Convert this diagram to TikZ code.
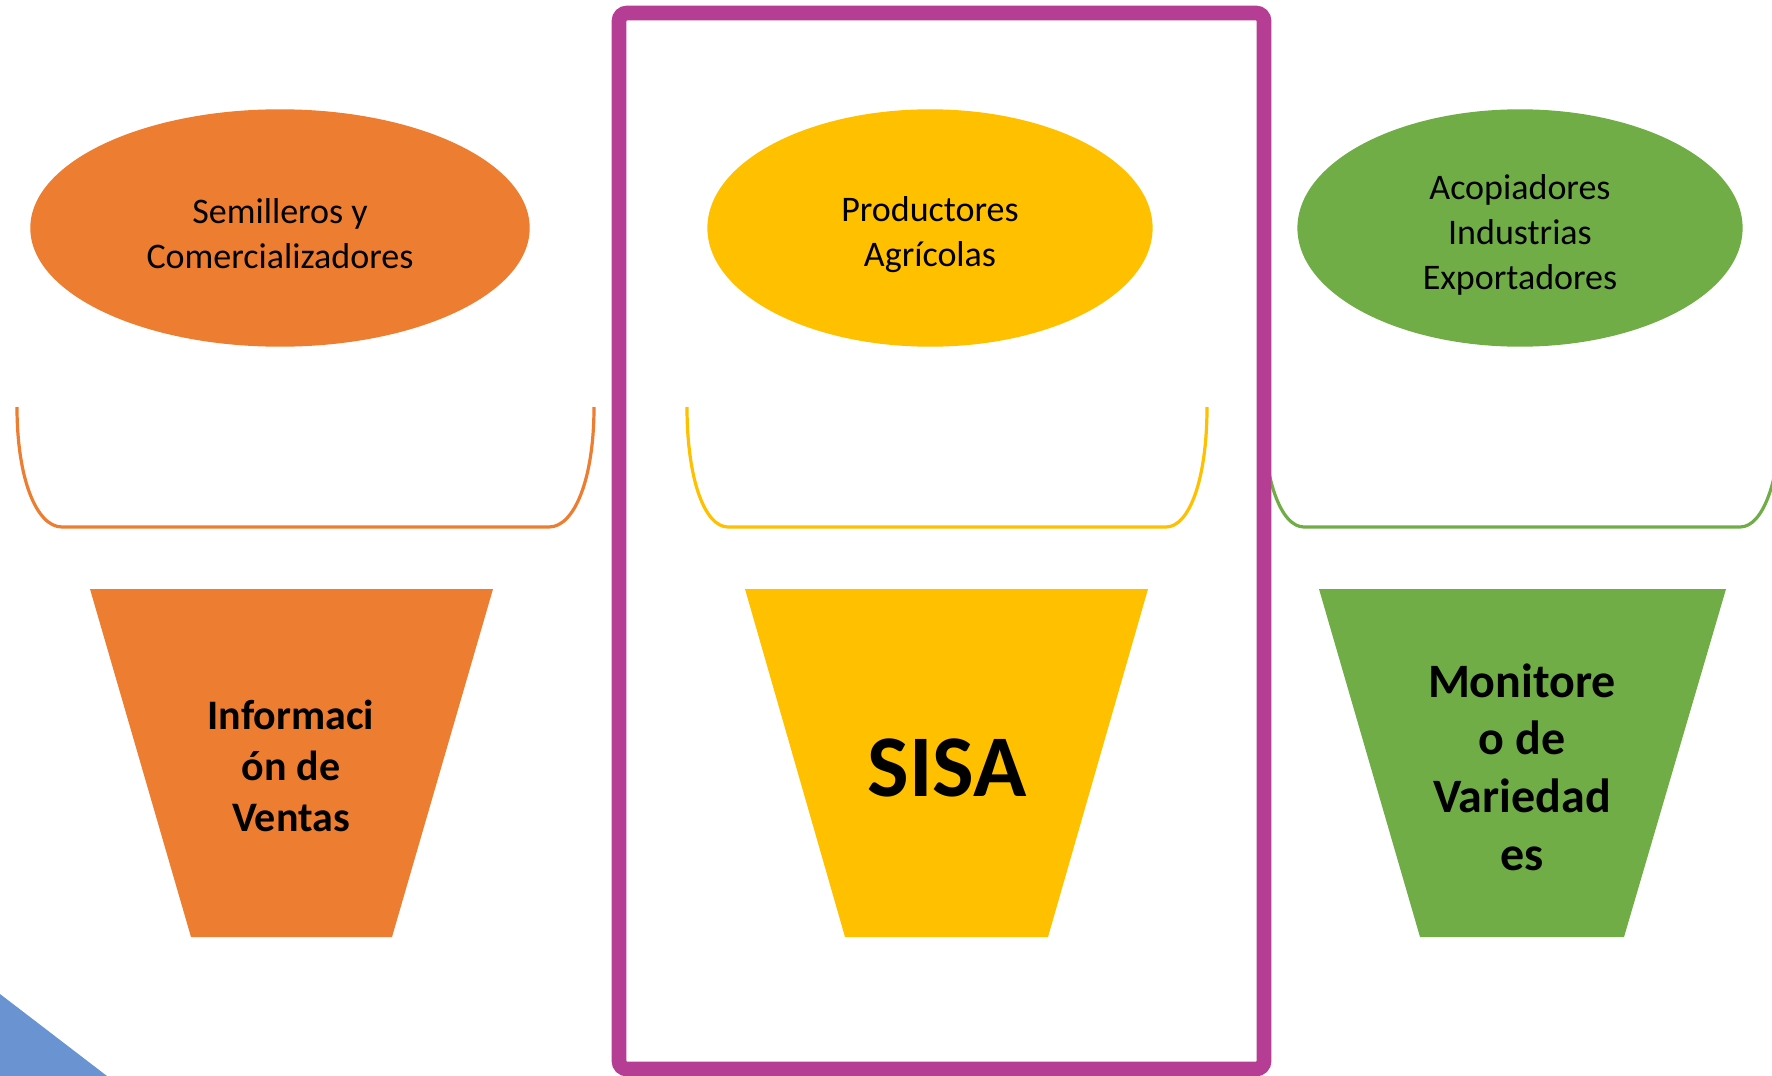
\documentclass[tikz,border=0pt]{standalone}
\usepackage{fontspec}
\setmainfont{Carlito}
\usetikzlibrary{shapes.geometric}
\definecolor{naranja}{RGB}{237,125,49}
\definecolor{amarillo}{RGB}{255,192,0}
\definecolor{verde}{RGB}{112,173,71}
\definecolor{morado}{RGB}{181,62,148}
\definecolor{azul}{RGB}{106,147,209}
\begin{document}
\begin{tikzpicture}[x=0.5pt,y=-0.5pt,
  actor/.style={ellipse, inner sep=0pt, minimum height=118.7pt},
  nombre/.style={align=center, font=\fontsize{18}{22.5}\selectfont},
  taza/.style={line width=1.6pt},
  fuente/.style={align=center, font=\bfseries\fontsize{21}{25.7}\selectfont}]
\useasboundingbox (0,0) rectangle (1772,1076);
\fill[azul] (0,994) -- (107,1076) -- (0,1076) -- cycle;
% actores
\node[actor, fill=naranja, minimum width=249.7pt] (actor1) at (280,228) {};
\node[actor, fill=amarillo, minimum width=222.6pt] (actor2) at (930,228) {};
\node[actor, fill=verde, minimum width=222.6pt] (actor3) at (1520,228) {};
\node[nombre] (nombre1) at (280,234) {Semilleros y\\Comercializadores};
\node[nombre] (nombre2) at (930,235) {Productores\\Agrícolas};
\node[nombre] (nombre3) at (1520,235) {Acopiadores\\Industrias\\Exportadores};
% tazas
\draw[taza, naranja] (17,407) .. controls (17,480) and (37,527) .. (62,527) -- (549,527) .. controls (574,527) and (594,480) .. (594,407);
\draw[taza, amarillo] (687,407) .. controls (687,480) and (705,527) .. (728,527) -- (1166,527) .. controls (1189,527) and (1207,480) .. (1207,407);
\draw[taza, verde] (1263,407) .. controls (1263,480) and (1281,527) .. (1304,527) -- (1740,527) .. controls (1763,527) and (1781,480) .. (1781,407);
% embudos
\fill[naranja] (90,589) -- (493,589) -- (392,937) -- (191,937) -- cycle;
\fill[amarillo] (745,589) -- (1148,589) -- (1048,937) -- (845,937) -- cycle;
\fill[verde] (1319,589) -- (1726,589) -- (1624,937) -- (1420,937) -- cycle;
\node[fuente] (fuente1) at (291,766) {Informaci\\ón de\\Ventas};
\node[fuente, font=\bfseries\fontsize{44}{50}\selectfont] (fuente2) at (947,768) {SISA};
\node[fuente, font=\bfseries\fontsize{24}{28.8}\selectfont] (fuente3) at (1522,767) {Monitore\\o de\\Variedad\\es};
% marco
\draw[morado, line width=7.35pt, rounded corners=4pt] (619,13) rectangle (1264,1069);
\end{tikzpicture}
\end{document}
